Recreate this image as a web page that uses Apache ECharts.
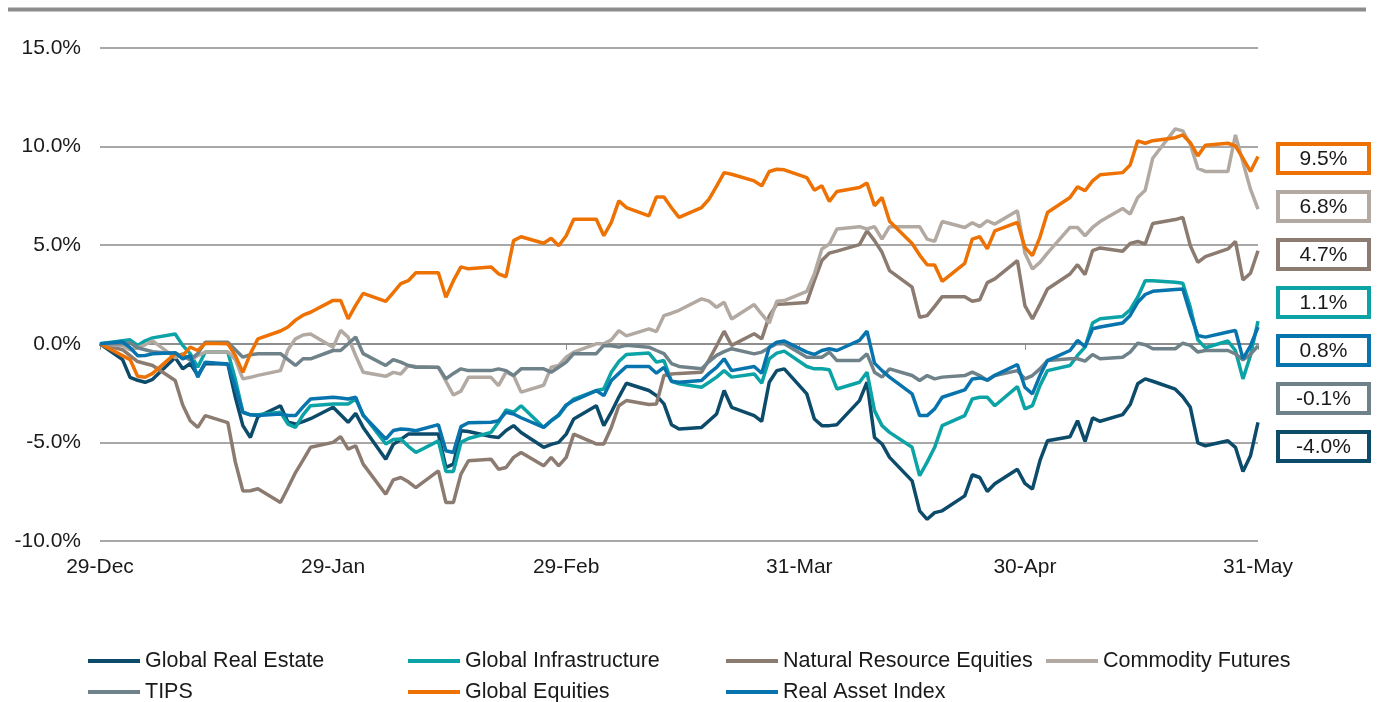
<!DOCTYPE html>
<html>
<head>
<meta charset="utf-8">
<title>Real assets YTD</title>
<script src="https://cdn.jsdelivr.net/npm/echarts@6/dist/echarts.min.js"></script>
<style>
    html, body { margin: 0; padding: 0; background: #fff; }
    #chart { width: 1380px; height: 702px; }
</style>
</head>
<body>
<div id="chart"></div>
<script>
// trading days, 29-Dec to 31-May
var dates = [
    '2023-12-29',
    '2024-01-01','2024-01-02','2024-01-03','2024-01-04','2024-01-05',
    '2024-01-08','2024-01-09','2024-01-10','2024-01-11','2024-01-12',
    '2024-01-15','2024-01-16','2024-01-17','2024-01-18','2024-01-19',
    '2024-01-22','2024-01-23','2024-01-24','2024-01-25','2024-01-26',
    '2024-01-29','2024-01-30','2024-01-31','2024-02-01','2024-02-02',
    '2024-02-05','2024-02-06','2024-02-07','2024-02-08','2024-02-09',
    '2024-02-12','2024-02-13','2024-02-14','2024-02-15','2024-02-16',
    '2024-02-19','2024-02-20','2024-02-21','2024-02-22','2024-02-23',
    '2024-02-26','2024-02-27','2024-02-28','2024-02-29','2024-03-01',
    '2024-03-04','2024-03-05','2024-03-06','2024-03-07','2024-03-08',
    '2024-03-11','2024-03-12','2024-03-13','2024-03-14','2024-03-15',
    '2024-03-18','2024-03-19','2024-03-20','2024-03-21','2024-03-22',
    '2024-03-25','2024-03-26','2024-03-27','2024-03-28','2024-03-29',
    '2024-04-01','2024-04-02','2024-04-03','2024-04-04','2024-04-05',
    '2024-04-08','2024-04-09','2024-04-10','2024-04-11','2024-04-12',
    '2024-04-15','2024-04-16','2024-04-17','2024-04-18','2024-04-19',
    '2024-04-22','2024-04-23','2024-04-24','2024-04-25','2024-04-26',
    '2024-04-29','2024-04-30','2024-05-01','2024-05-02','2024-05-03',
    '2024-05-06','2024-05-07','2024-05-08','2024-05-09','2024-05-10',
    '2024-05-13','2024-05-14','2024-05-15','2024-05-16','2024-05-17',
    '2024-05-20','2024-05-21','2024-05-22','2024-05-23','2024-05-24',
    '2024-05-27','2024-05-28','2024-05-29','2024-05-30','2024-05-31'
];

// cumulative return, %
var realEstate = [0,
    -0.8,-1.7,-1.85,-1.95,-1.8, -0.7,-1.27,-1.0,-1.6,-1.0, -1.02,-2.71,-4.15,-4.75,-3.7,
    -3.14,-3.98,-4.07,-3.95,-3.8, -3.22,-3.6,-3.98,-3.53,-4.24, -5.85,-5.1,-4.85,-4.58,-4.58,
    -4.58,-6.27,-6.1,-4.41,-4.45, -4.7,-4.75,-4.4,-4.15,-4.5, -5.25,-5.1,-5.0,-4.58,-3.81,
    -3.14,-4.15,-3.47,-2.7,-2.0, -2.37,-2.63,-3.05,-4.1,-4.32, -4.24,-3.9,-3.56,-2.37,-3.22,
    -3.64,-3.93,-1.95,-1.36,-1.27, -2.54,-3.81,-4.15,-4.15,-4.1, -2.88,-1.95,-4.75,-5.08,-5.76,
    -6.95,-8.47,-8.9,-8.56,-8.47, -7.71,-6.64,-6.78,-7.49,-7.1, -6.36,-7.08,-7.37,-5.93,-4.92,
    -4.71,-3.9,-4.95,-3.76,-3.93, -3.59,-3.08,-2.03,-1.78,-1.9, -2.3,-2.68,-3.22,-5.02,-5.17,
    -4.92,-5.25,-6.47,-5.68,-3.98];
var infrastructure = [0,
    0.15,0.2,-0.08,0.15,0.3, 0.5,-0.08,-0.5,-1.19,-0.42, -0.42,-1.8,-3.47,-3.6,-3.6,
    -3.47,-4.07,-4.24,-3.6,-3.14, -3.05,-3.05,-3.05,-2.8,-3.6, -5.08,-4.85,-4.83,-5.2,-5.51,
    -4.92,-6.47,-6.47,-5.0,-4.8, -4.49,-3.98,-3.35,-3.47,-3.14, -4.24,-3.9,-3.64,-3.14,-2.8,
    -2.37,-2.29,-1.44,-0.9,-0.54, -0.47,-0.93,-0.85,-1.9,-2.03, -2.2,-1.95,-1.69,-1.36,-1.69,
    -1.53,-2.0,-0.76,-0.47,-0.37, -1.15,-1.27,-1.27,-1.32,-2.29, -1.95,-1.44,-3.39,-4.15,-4.49,
    -5.25,-6.69,-6.0,-5.25,-4.15, -3.64,-2.8,-2.71,-2.71,-3.14, -2.17,-3.3,-3.14,-2.12,-1.36,
    -1.1,-0.59,-0.17,1.05,1.27, 1.39,1.73,2.36,3.2,3.2, 3.12,3.07,1.85,0.2,-0.2,
    0.14,-0.34,-1.78,-0.59,1.15];
var naturalResources = [0,
    -0.3,-0.6,-0.9,-1.0,-1.1, -1.86,-3.1,-3.9,-4.24,-3.64, -4.0,-6.0,-7.46,-7.45,-7.35,
    -8.05,-7.3,-6.53,-5.9,-5.25, -5.0,-4.71,-5.34,-5.17,-6.1, -7.63,-6.9,-6.78,-7.0,-7.29,
    -6.44,-8.05,-8.05,-6.61,-5.93, -5.85,-6.36,-6.27,-5.76,-5.51, -6.19,-5.76,-6.19,-5.76,-4.58,
    -5.08,-5.08,-4.24,-3.14,-2.88, -3.08,-3.05,-1.61,-1.53,-1.5, -1.44,-0.8,-0.1,0.64,-0.08,
    0.51,0.25,1.4,2.0,2.02, 2.1,3.2,4.22,4.6,4.7, 5.03,5.73,5.23,4.64,3.71,
    2.87,1.35,1.43,1.9,2.39, 2.39,2.16,2.23,3.1,3.29, 4.22,1.94,1.26,2.0,2.78,
    3.54,4.01,3.51,4.72,4.86, 4.69,5.09,5.19,5.06,6.1, 6.3,6.41,4.97,4.13,4.42,
    4.81,5.19,3.24,3.58,4.72];
var commodities = [0,
    -0.1,-0.3,-0.2,-0.05,0.15, -0.7,-0.5,-0.85,-0.6,-0.42, -0.42,-0.8,-1.78,-1.7,-1.6,
    -1.36,-0.3,0.25,0.45,0.5, -0.17,0.68,0.34,-0.6,-1.44, -1.65,-1.45,-1.53,-1.1,-1.15,
    -1.2,-1.9,-2.6,-2.4,-1.7, -1.7,-2.12,-1.44,-1.61,-2.45, -2.1,-1.19,-1.1,-0.68,-0.42,
    0.0,0.0,0.2,0.67,0.4, 0.76,0.62,1.43,1.55,1.7, 2.28,2.16,1.85,2.11,1.26,
    1.99,1.5,1.05,2.16,2.19, 2.66,3.54,4.81,5.06,5.82, 5.94,5.82,5.94,5.31,5.94,
    5.94,5.94,5.31,5.19,6.2, 5.9,6.14,5.94,6.24,6.07, 6.75,4.6,3.79,4.13,4.6,
    5.9,5.9,5.48,5.9,6.2, 6.86,6.58,7.42,7.79,9.41, 10.9,10.8,10.12,8.89,8.74,
    8.74,10.59,9.2,7.84,6.83];
var tips = [0,
    0.0,0.05,-0.2,-0.3,-0.4, -0.5,-0.6,-0.8,-0.5,0.08, 0.08,-0.3,-0.68,-0.55,-0.5,
    -0.5,-0.8,-1.1,-0.76,-0.76, -0.34,-0.34,0.0,0.34,-0.5, -1.1,-0.8,-0.93,-1.1,-1.19,
    -1.19,-1.78,-1.5,-1.27,-1.36, -1.36,-1.27,-1.36,-1.61,-1.27, -1.27,-1.44,-1.19,-0.93,-0.5,
    -0.5,-0.08,-0.1,-0.17,-0.08, -0.17,-0.34,-0.5,-1.0,-1.15, -1.27,-0.9,-0.59,-0.4,-0.25,
    -0.51,-0.42,-0.2,0.0,0.0, -0.68,-0.68,-0.68,-0.42,-0.85, -0.85,-0.51,-1.44,-1.69,-1.27,
    -1.61,-1.86,-1.61,-1.78,-1.69, -1.61,-1.44,-1.61,-1.86,-1.61, -1.36,-1.78,-1.61,-1.27,-0.85,
    -0.76,-0.76,-0.88,-0.54,-0.76, -0.68,-0.42,0.03,-0.05,-0.25, -0.25,0.03,-0.08,-0.42,-0.34,
    -0.34,-0.51,-0.81,-0.54,-0.1];
var equities = [0,
    -0.6,-0.8,-1.65,-1.7,-1.5, -0.5,-0.6,-0.17,-0.34,0.03, 0.0,-0.6,-1.45,-0.5,0.25,
    0.65,0.85,1.2,1.45,1.6, 2.2,2.2,1.26,1.95,2.56, 2.15,2.6,3.05,3.2,3.6,
    3.6,2.36,3.2,3.9,3.8, 3.9,3.55,3.4,5.23,5.43, 5.1,5.35,4.97,5.48,6.32,
    6.32,5.48,6.16,7.25,6.91, 6.49,7.45,7.45,6.9,6.41, 6.91,7.34,8.0,8.68,8.6,
    8.26,8.01,8.74,8.85,8.82, 8.43,7.79,8.01,7.22,7.72, 7.93,8.15,7.0,7.42,6.21,
    5.09,4.5,4.01,4.0,3.17, 4.08,5.31,5.43,4.81,5.73, 6.16,4.89,4.47,5.4,6.66,
    7.42,7.96,7.76,8.26,8.57, 8.68,9.07,10.29,10.17,10.3, 10.45,10.59,10.2,9.53,10.07,
    10.17,10.03,9.4,8.74,9.5];
var realAssets = [0,
    0.1,-0.2,-0.6,-0.59,-0.51, -0.45,-0.76,-0.6,-1.69,-0.93, -1.02,-2.2,-3.47,-3.6,-3.64,
    -3.56,-3.64,-3.64,-3.2,-2.8, -2.71,-2.75,-2.8,-2.71,-3.64, -4.83,-4.4,-4.32,-4.35,-4.41,
    -4.1,-5.42,-5.51,-4.2,-4.0, -3.98,-3.9,-3.47,-3.56,-3.75, -4.24,-3.9,-3.6,-3.1,-2.88,
    -2.37,-2.63,-1.86,-1.5,-1.15, -1.15,-1.49,-1.19,-1.9,-1.95, -1.86,-1.5,-1.2,-0.76,-1.36,
    -1.15,-1.49,-0.17,0.08,0.14, -0.42,-0.54,-0.34,-0.25,-0.34, 0.17,0.64,-0.98,-1.36,-1.69,
    -2.54,-3.64,-3.64,-3.3,-2.71, -2.34,-1.78,-1.73,-1.83,-1.6, -1.05,-2.2,-2.54,-1.61,-0.85,
    -0.34,0.17,-0.14,0.76,0.85, 1.05,1.44,2.1,2.5,2.66, 2.75,2.78,1.52,0.42,0.34,
    0.6,0.68,-0.76,-0.1,0.85];

var seriesNames = ['Global Real Estate', 'Global Infrastructure', 'Natural Resource Equities',
    'Commodity Futures', 'TIPS', 'Global Equities', 'Real Asset Index'];
var seriesValues = [realEstate, infrastructure, naturalResources, commodities, tips, equities, realAssets];
var seriesColors = ['#0D4B6B', '#0BA3A5', '#8B7B70', '#B2AAA2', '#6F8289', '#EE7203', '#0874AE'];

// x tick labels
var tickDates = ['2023-12-29', '2024-01-29', '2024-02-29', '2024-03-31', '2024-04-30', '2024-05-31'];
var tickLabels = ['29-Dec', '29-Jan', '29-Feb', '31-Mar', '30-Apr', '31-May'];

// boxed end values on the right (top to bottom), index into seriesNames
var endLabels = ['9.5%', '6.8%', '4.7%', '1.1%', '0.8%', '-0.1%', '-4.0%'];
var endLabelSeries = [5, 3, 2, 1, 6, 4, 0];

var FONT = '"Liberation Sans", Arial, sans-serif';
var Y_MIN = -10, Y_MAX = 15;
var GRID = { left: 100, right: 122, top: 48, bottom: 161 };

// calendar days since the first date (x axis is a date axis)
function dayOf(s) {
    var p = s.split('-');
    var t = Date.UTC(+p[0], +p[1] - 1, +p[2]);
    var p0 = dates[0].split('-');
    return Math.round((t - Date.UTC(+p0[0], +p0[1] - 1, +p0[2])) / 86400000);
}
var tickDays = tickDates.map(dayOf);
var xMax = dayOf(dates[dates.length - 1]);

// the axis line with ticks sits on 0%, labels stay at the bottom
var gridHeight = 702 - GRID.top - GRID.bottom;
var zeroOffset = -gridHeight * (0 - Y_MIN) / (Y_MAX - Y_MIN);

/* legend: one component per item so columns line up */
var legendSlots = [[88, 650], [408, 650], [726, 650], [1046, 650],
                   [88, 681], [408, 681], [726, 681]];
var legends = seriesNames.map(function (name, i) {
    return {
        data: [name],
        left: legendSlots[i][0],
        top: legendSlots[i][1],
        padding: 0,
        icon: 'rect',
        itemWidth: 52,
        itemHeight: 4,
        selectedMode: false,
        textStyle: { fontFamily: FONT, fontSize: 21.5, color: '#1a1a1a' }
    };
});

/* boxes with the last value */
var graphics = [{
    type: 'line',
    shape: { x1: 8, y1: 9.5, x2: 1366, y2: 9.5 },
    style: { stroke: '#8c8c8c', lineWidth: 4 }
}];
endLabels.forEach(function (txt, i) {
    var top = 142 + i * 48;
    graphics.push({
        type: 'rect',
        shape: { x: 1278, y: top + 2, width: 91, height: 29 },
        style: { fill: '#fff', stroke: seriesColors[endLabelSeries[i]], lineWidth: 4 }
    });
    graphics.push({
        type: 'text',
        x: 1323.5,
        y: top + 17,
        style: {
            text: txt, fill: '#1a1a1a', font: '21px ' + FONT,
            align: 'center', verticalAlign: 'middle'
        }
    });
});

var chart = echarts.init(document.getElementById('chart'));

var option = {
    animation: false,
    backgroundColor: '#fff',
    grid: GRID,
    legend: legends,
    graphic: graphics,
    xAxis: [{
        type: 'value',
        min: 0,
        max: xMax,
        axisLine: { show: false },
        axisTick: { show: false },
        splitLine: { show: false },
        axisLabel: {
            customValues: tickDays,
            margin: 16,
            fontFamily: FONT,
            fontSize: 21,
            color: '#1a1a1a',
            formatter: function (val) {
                var k = tickDays.indexOf(val);
                return k >= 0 ? tickLabels[k] : '';
            }
        }
    }, {
        type: 'value',
        position: 'bottom',
        offset: zeroOffset,
        min: 0,
        max: xMax,
        axisLine: { show: true, onZero: false, lineStyle: { color: '#8e8e8e', width: 2 } },
        axisTick: { show: true, customValues: tickDays, length: 6, lineStyle: { color: '#8e8e8e', width: 1 } },
        axisLabel: { show: false },
        splitLine: { show: false }
    }],
    yAxis: {
        type: 'value',
        min: Y_MIN,
        max: Y_MAX,
        interval: 5,
        axisLine: { show: false },
        axisTick: { show: false },
        axisLabel: {
            margin: 19,
            fontFamily: FONT,
            fontSize: 21,
            color: '#1a1a1a',
            formatter: function (v) { return v.toFixed(1) + '%'; }
        },
        splitLine: { lineStyle: { color: '#a8a8a8', width: 2 } }
    },
    series: seriesNames.map(function (name, i) {
        return {
            name: name,
            type: 'line',
            xAxisIndex: 0,
            symbol: 'none',
            lineStyle: { color: seriesColors[i], width: 3.5 },
            itemStyle: { color: seriesColors[i] },
            data: seriesValues[i].map(function (v, j) { return [dayOf(dates[j]), v]; })
        };
    })
};
chart.setOption(option);
</script>
</body>
</html>
